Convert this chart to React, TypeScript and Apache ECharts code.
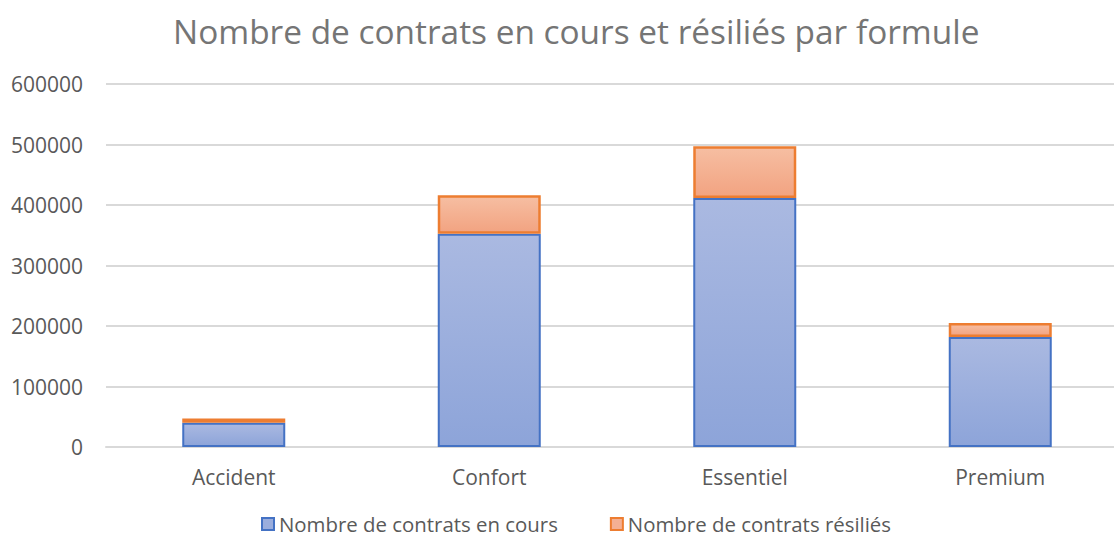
import React, { useEffect, useRef } from "react";
import * as echarts from "echarts";

const categories = ["Accident", "Confort", "Essentiel", "Premium"];
const enCours = [40000, 352500, 411500, 182000];
const resilies = [7000, 63500, 85500, 23000];
const yTicks = [0, 100000, 200000, 300000, 400000, 500000, 600000];

const FONT = "'Open Sans', 'Noto Sans', sans-serif";

export default function App() {
  const ref = useRef<HTMLDivElement>(null);
  useEffect(() => {
    const chart = echarts.init(ref.current!, null, { renderer: "svg" });
    const blueFill = new echarts.graphic.LinearGradient(0, 0, 0, 1, [
      { offset: 0, color: "#AAB9E1" },
      { offset: 1, color: "#8DA4D9" },
    ]);
    const orangeFill = new echarts.graphic.LinearGradient(0, 0, 0, 1, [
      { offset: 0, color: "#F6BEA2" },
      { offset: 1, color: "#F2A381" },
    ]);
    chart.setOption({
      animation: false,
      title: {
        text: "Nombre de contrats en cours et résiliés par formule",
        left: 168,
        top: 9,
        textStyle: { fontFamily: FONT, fontSize: 33.4, fontWeight: "normal", color: "#757575" },
      },
      grid: {
        left: 106,
        top: 84,
        width: 1022,
        bottom: 92,
        containLabel: false,
        outerBoundsMode: "none",
      },
      legend: {
        top: 514,
        left: 261,
        padding: 0,
        itemWidth: 12,
        itemHeight: 12,
        itemGap: 52,
        icon: "rect",
        textStyle: { fontFamily: FONT, fontSize: 20.4, lineHeight: 20, color: "#595959" },
        data: [
          { name: "Nombre de contrats en cours", itemStyle: { color: "#9AADDD", borderColor: "#4472C4", borderWidth: 2 } },
          { name: "Nombre de contrats résiliés", itemStyle: { color: "#F4B094", borderColor: "#ED7D31", borderWidth: 2 } },
        ],
      },
      xAxis: {
        type: "category",
        data: categories,
        axisLine: { lineStyle: { color: "#D9D9D9", width: 2 } },
        axisTick: { show: false },
        axisLabel: { fontFamily: FONT, fontSize: 21, color: "#595959", margin: 19 },
      },
      yAxis: {
        type: "value",
        min: 0,
        max: 600000,
        interval: 100000,
        axisLine: { show: false },
        axisTick: { show: false },
        splitLine: { lineStyle: { color: "#D9D9D9", width: 2 } },
        axisLabel: {
          fontFamily: FONT,
          fontSize: 21,
          color: "#595959",
          margin: 23,
          formatter: (v: number) => (yTicks.includes(v) ? String(v) : ""),
        },
      },
      series: [
        {
          name: "Nombre de contrats en cours",
          type: "bar",
          stack: "total",
          barWidth: 103,
          data: enCours,
          itemStyle: { color: blueFill, borderColor: "#4472C4", borderWidth: 2 },
        },
        {
          name: "Nombre de contrats résiliés",
          type: "bar",
          stack: "total",
          barWidth: 103,
          data: resilies,
          itemStyle: { color: orangeFill, borderColor: "#ED7D31", borderWidth: 2.5 },
        },
      ],
    });
    return () => chart.dispose();
  }, []);
  return (
    <div
      ref={ref}
      style={{ position: "fixed", left: 0, top: 0, width: 1114, height: 539, background: "#fff" }}
    />
  );
}
